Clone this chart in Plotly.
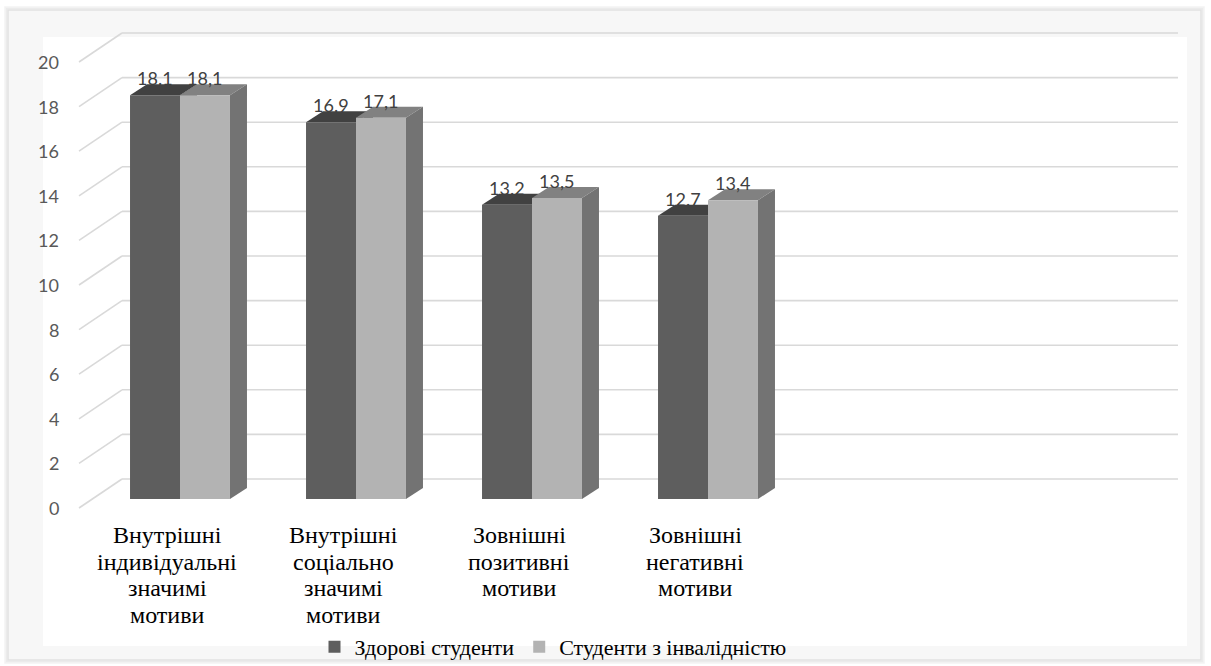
import plotly.graph_objects as go

# ---- data -------------------------------------------------------------
categories = [
    "Внутрішні\nіндивідуальні\nзначимі\nмотиви",
    "Внутрішні\nсоціально\nзначимі\nмотиви",
    "Зовнішні\nпозитивні\nмотиви",
    "Зовнішні\nнегативні\nмотиви",
]
series_names = ["Здорові студенти", "Студенти з інвалідністю"]
healthy = [18.1, 16.9, 13.2, 12.7]
disabled = [18.1, 17.1, 13.5, 13.4]
y_ticks = [0, 2, 4, 6, 8, 10, 12, 14, 16, 18, 20]

# ---- styling ----------------------------------------------------------
FRONT = ["#5e5e5e", "#b3b3b3"]
TOP = ["#414141", "#818181"]
SIDE = ["#4a4a4a", "#737373"]
GRID = "#d9d9d9"
SERIF = "Times New Roman, Tinos, Liberation Serif, Noto Serif, FreeSerif, DejaVu Serif, serif"
SANS = "Lato, Open Sans, sans-serif"

N_SLOTS = 6            # the category axis keeps room for six groups
W, H = 1211, 666
M_L, M_R, M_T, M_B = 48, 19, 26, 140
PW, PH = W - M_L - M_R, H - M_T - M_B
CAT_PX = PW / (N_SLOTS + 0.5)                # pixels per category
BASE_PX = 499                                # pixel row of value 0
UNIT_PX = 22.3                               # pixels per value unit
BAR_W = 0.284                                # bar width in category units
LABEL_LINE_PX = 26.5                         # line pitch of category labels

def ux(p):
    return p / CAT_PX

def uy(p):
    return p / UNIT_PX

def paper_x(px):
    return (px - M_L) / PW

def paper_y(py):
    return (H - M_B - py) / PH

# perspective offsets (pixels): bar depth, floor front edge, back wall
DEPTH = (17, 11)
FLOOR = (-13, -9)
BACK = (30, 20)

y_range = [-(H - M_B - BASE_PX) / UNIT_PX, (BASE_PX - M_T) / UNIT_PX]
x_range = [-0.75, N_SLOTS - 0.25]

fig = go.Figure()

offsets = [-BAR_W, 0.0]
for k, vals in enumerate([healthy, disabled]):
    fig.add_trace(go.Bar(
        x=list(range(len(vals))), y=vals, base=0,
        width=BAR_W, offset=offsets[k],
        marker=dict(color=FRONT[k], line=dict(width=0)),
        name=series_names[k], hoverinfo="skip",
    ))

shapes = []

# chart frame with a soft edge
for grow, col in [(3, "#f3f3f3"), (1.5, "#ebebeb"), (0, "#e2e2e2")]:
    shapes.append(dict(type="rect", xref="paper", yref="paper", layer="below",
                       x0=paper_x(8 - grow), x1=paper_x(1201 + grow),
                       y0=paper_y(660 + grow), y1=paper_y(10 - grow),
                       fillcolor="#f7f7f7", line=dict(color=col, width=1.5)))
shapes.append(dict(type="rect", xref="paper", yref="paper", layer="below",
                   x0=paper_x(43), x1=paper_x(1187),
                   y0=paper_y(646), y1=paper_y(37),
                   fillcolor="#ffffff", line=dict(width=0)))

# gridlines: diagonal floor edge + back wall line
x_left = -0.5
x_right = N_SLOTS - 0.5
for v in y_ticks:
    fx, fy = x_left + ux(FLOOR[0]), v + uy(FLOOR[1])
    bx, by = x_left + ux(BACK[0]), v + uy(BACK[1])
    shapes.append(dict(type="line", xref="x", yref="y", layer="below",
                       x0=fx, y0=fy, x1=bx, y1=by,
                       line=dict(color=GRID, width=1.6)))
    shapes.append(dict(type="line", xref="x", yref="y", layer="below",
                       x0=bx, y0=by, x1=x_right + ux(BACK[0]), y1=by,
                       line=dict(color=GRID, width=1.6)))

# top and side faces of the bars
dx, dy = ux(DEPTH[0]), uy(DEPTH[1])

def poly(pts):
    return "M " + " L ".join(f"{a:.5f},{b:.5f}" for a, b in pts) + " Z"

for i in range(len(categories)):
    for k, vals in enumerate([healthy, disabled]):
        h = vals[i]
        x0 = i + offsets[k]
        x1 = x0 + BAR_W
        shapes.append(dict(type="path", xref="x", yref="y", layer="between",
                           path=poly([(x0, h), (x1, h), (x1 + dx, h + dy), (x0 + dx, h + dy)]),
                           fillcolor=TOP[k], line=dict(width=0)))
        shapes.append(dict(type="path", xref="x", yref="y", layer="between",
                           path=poly([(x1, 0), (x1 + dx, dy), (x1 + dx, h + dy), (x1, h)]),
                           fillcolor=SIDE[k], line=dict(width=0)))

annotations = []

# value axis labels at the floor front edge
for v in y_ticks:
    annotations.append(dict(x=x_left, y=v, xref="x", yref="y", text=str(v),
                            showarrow=False, xanchor="right", yanchor="middle",
                            xshift=-31, yshift=FLOOR[1],
                            font=dict(family=SANS, size=18, color="#595959")))

# category labels, one line at a time for a tight line pitch
for i, c in enumerate(categories):
    for j, line in enumerate(c.split("\n")):
        annotations.append(dict(x=i, y=0, xref="x", yref="y", text=line,
                                showarrow=False, xanchor="center", yanchor="middle",
                                xshift=FLOOR[0], yshift=-36 - j * LABEL_LINE_PX,
                                font=dict(family=SERIF, size=24, color="#000000")))

# data labels
for k, vals in enumerate([healthy, disabled]):
    for i, v in enumerate(vals):
        txt = f"{v:.1f}" if k == 0 else f"{v:.1f}".replace(".", ",")
        annotations.append(dict(x=i + offsets[k] + BAR_W / 2, y=v, xref="x", yref="y",
                                text=txt, showarrow=False, xanchor="center",
                                yanchor="middle", yshift=17,
                                font=dict(family=SANS, size=18, color="#404040")))

fig.update_layout(
    width=W, height=H,
    margin=dict(l=M_L, r=M_R, t=M_T, b=M_B, autoexpand=False),
    paper_bgcolor="#ffffff", plot_bgcolor="rgba(0,0,0,0)",
    barmode="overlay",
    xaxis=dict(range=x_range, showgrid=False, zeroline=False, showticklabels=False,
               showline=False, fixedrange=True),
    yaxis=dict(range=y_range, showgrid=False, zeroline=False, showticklabels=False,
               showline=False, fixedrange=True),
    shapes=shapes, annotations=annotations,
    showlegend=True,
    legend=dict(orientation="h", xref="container", yref="container",
                x=553 / W, y=1 - 647 / H, xanchor="center", yanchor="middle",
                bgcolor="rgba(0,0,0,0)", itemwidth=30, itemclick=False,
                font=dict(family=SERIF, size=22, color="#000000")),
)

fig.write_html("out.html")
